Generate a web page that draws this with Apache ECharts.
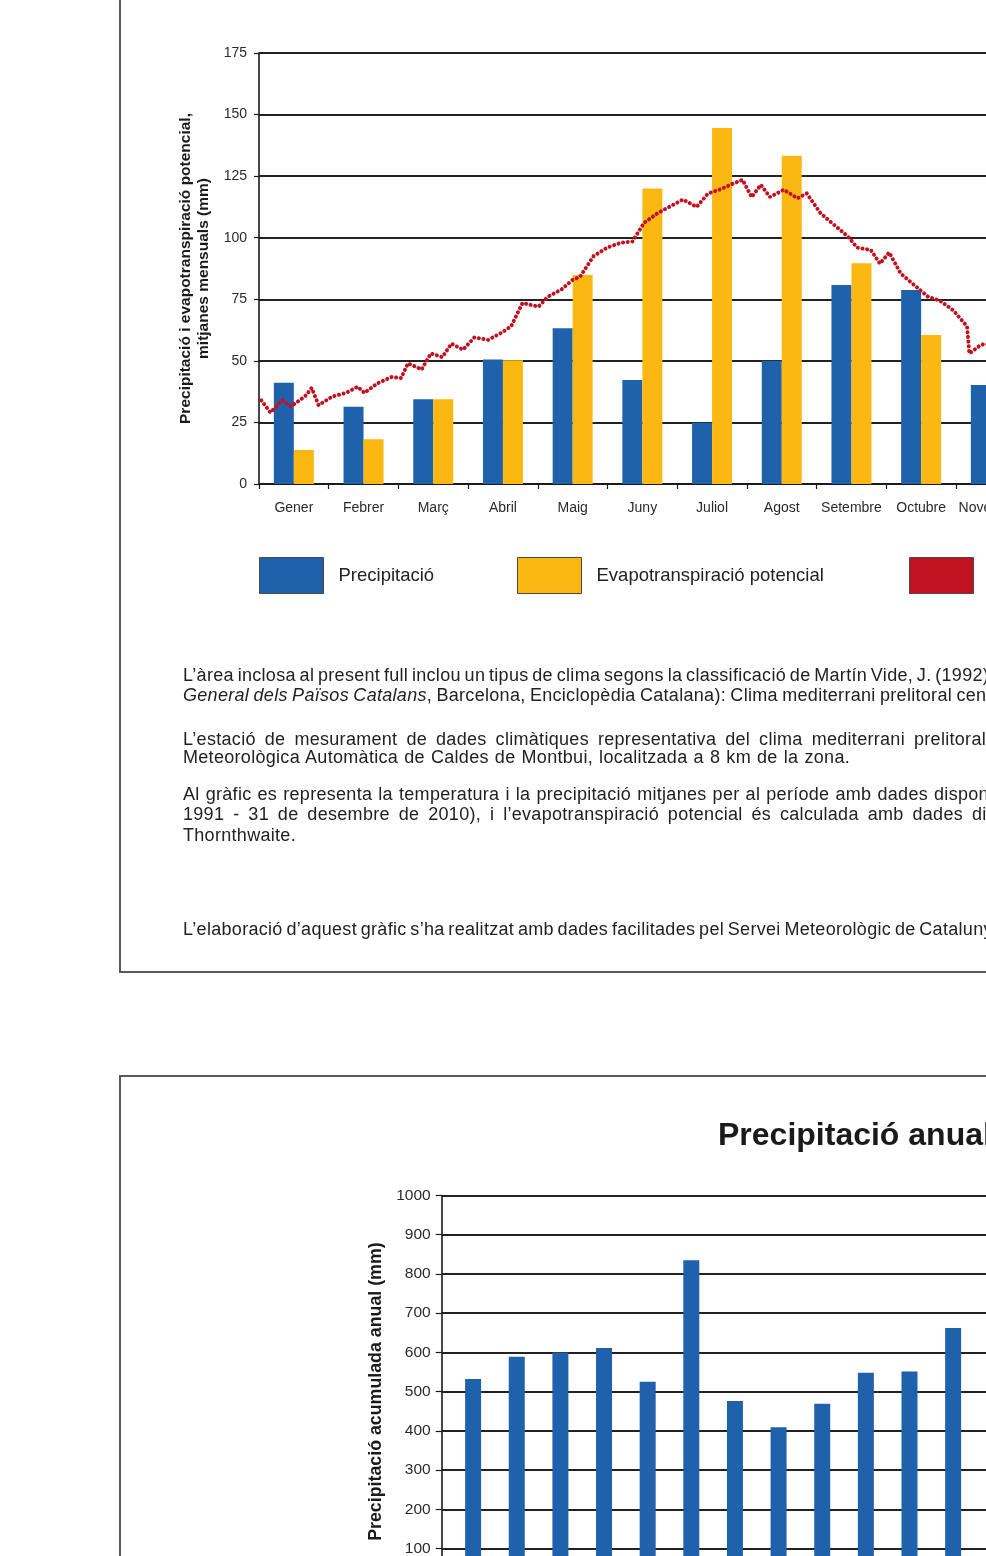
<!DOCTYPE html>
<html>
<head>
<meta charset="utf-8">
<script src="https://cdn.jsdelivr.net/npm/echarts@6/dist/echarts.min.js"></script>
<style>
  html, body { margin:0; padding:0; width:986px; height:1556px; overflow:hidden; background:#fff; }
  .frame { position:absolute; border:2px solid #5a5a5a; box-sizing:border-box; }
  #chart { position:absolute; left:0; top:0; width:1400px; height:1750px; z-index:2; }
  .ln { position:absolute; left:183px; white-space:nowrap; font-family:"Liberation Sans", Arial, Helvetica, sans-serif;
        font-size:18px; letter-spacing:0.3px; line-height:20px; color:#222; z-index:3; }
</style>
</head>
<body>
<div class="frame" style="left:119px; top:-20px; width:1300px; height:993px;"></div>
<div class="frame" style="left:119px; top:1075px; width:1300px; height:700px;"></div>
<div id="chart"></div>
<div class="ln" style="top:665px;" data-end="988"><span class="a">L’àrea inclosa al present full inclou un tipus de clima segons la classificació de Martín Vide, J. (1992)</span> (Geografia</div>
<div class="ln" style="top:685px;" data-end="952"><span class="a"><i>General dels Països Catalans</i>, Barcelona, Enciclopèdia Catalana): Clima mediterrani prelitoral</span> central.</div>
<div class="ln" style="top:729px;" data-end="986"><span class="a">L’estació de mesurament de dades climàtiques representativa del clima mediterrani prelitoral</span> central és l’Estació</div>
<div class="ln" style="top:747px;" data-end="850"><span class="a">Meteorològica Automàtica de Caldes de Montbui, localitzada a 8 km de la zona.</span></div>
<div class="ln" style="top:784px;" data-end="928"><span class="a">Al gràfic es representa la temperatura i la precipitació mitjanes per al període amb dades</span> disponibles (1 de gener de</div>
<div class="ln" style="top:804px;" data-end="963"><span class="a">1991 - 31 de desembre de 2010), i l’evapotranspiració potencial és calculada amb dades</span> diàries segons el mètode de</div>
<div class="ln" style="top:825px;"><span class="a">Thornthwaite.</span></div>
<div class="ln" style="top:919px;" data-end="897"><span class="a">L’elaboració d’aquest gràfic s’ha realitzat amb dades facilitades pel Servei Meteorològic de</span> Catalunya.</div>
<script>
// ---- Climograma (mitjanes mensuals) ----
const mesos = ['Gener','Febrer','Març','Abril','Maig','Juny','Juliol','Agost','Setembre','Octubre','Novembre','Desembre'];
const precipitacio = [41.1, 31.4, 34.4, 50.6, 63.2, 42.2, 24.9, 50.0, 80.8, 78.8, 40.2, 45];
const evapotranspiracio = [13.8, 18.2, 34.4, 50.2, 84.9, 120.0, 144.5, 133.3, 89.6, 60.5, 28, 15];
const yTicksMm = [0, 175, 25];
// temperatura mitjana diària (°C), dia de l'any
const diesAny = [1,5,10,14,20,23,26,32,38,43,46,52,58,62,65,71,75,80,84,89,94,100,106,110,115,122,126,132,137,140,146,152,158,163,168,174,179,185,191,196,201,207,211,215,219,223,229,235,239,245,250,257,261,267,271,275,280,285,292,297,303,309,310,315,319];
const temperatura = [6.8,5.8,6.8,6.3,7.1,7.8,6.4,7.1,7.4,7.9,7.4,8.2,8.7,8.6,9.8,9.3,10.6,10.3,11.4,10.9,11.9,11.7,12.3,12.8,14.7,14.4,15.2,15.8,16.6,16.8,18.5,19.2,19.6,19.7,21.2,22.0,22.5,23.1,22.5,23.6,23.9,24.4,24.7,23.3,24.3,23.3,23.9,23.2,23.6,22.0,21.2,20.1,19.2,19.0,17.9,18.8,17.1,16.3,15.2,14.9,14.1,12.8,10.6,11.3,11.4];
// ---- Precipitació anual ----
const anys = ['1991','1992','1993','1994','1995','1996','1997','1998','1999','2000','2001','2002','2003'];
const precipAnual = [532, 589, 600, 611, 525, 835, 476, 409, 469, 548, 551, 662, 553];
const yTicksAnual = [0, 1000, 100];

// text line fitting (reproduces the justified paragraph layout)
document.querySelectorAll('.ln').forEach(div => {
  if (!div.dataset.end) return;
  const a = div.querySelector('.a');
  const target = +div.dataset.end;
  const right = a.getBoundingClientRect().right;
  const n = (a.textContent.match(/ /g) || []).length;
  if (n) div.style.wordSpacing = Math.max(-1.5, (target - right) / n) + 'px';
});

const FONT = '"Liberation Sans", Arial, Helvetica, sans-serif';
const BLUE = '#1f62ab', YELLOW = '#fbb813', RED = '#c1121f';
const tempData = diesAny.map((d, i) => [d, temperatura[i]]);

const chart = echarts.init(document.getElementById('chart'), null, {renderer:'canvas'});
const axisLineStyle = {color:'#1a1a1a', width:1.6};
const splitStyle = {color:'#222', width:1.8};
const legendText = {fontSize:18.5, color:'#222', fontFamily:FONT, padding:[0,0,0,10]};

chart.setOption({
  animation:false,
  textStyle:{fontFamily:FONT},
  title:{text:'Precipitació anual', left:718, top:1120, padding:0,
    textStyle:{fontSize:32, fontWeight:'bold', color:'#1a1a1a', fontFamily:FONT}},
  legend:[
    {data:[{name:'Precipitació', icon:'rect'}], left:259, top:557, padding:0, itemWidth:64, itemHeight:36,
     itemStyle:{borderColor:'#4a4a4a', borderWidth:1}, textStyle:legendText},
    {data:[{name:'Evapotranspiració potencial', icon:'rect'}], left:517, top:557, padding:0, itemWidth:64, itemHeight:36,
     itemStyle:{borderColor:'#4a4a4a', borderWidth:1}, textStyle:legendText},
    {data:[{name:'Temperatura', icon:'rect', itemStyle:{color:RED}}], left:909, top:557, padding:0, itemWidth:64, itemHeight:36,
     itemStyle:{borderColor:'#4a4a4a', borderWidth:1}, textStyle:legendText}
  ],
  grid:[
    {left:259, top:53, width:836.4, height:431},
    {left:441.7, top:1195.5, width:567.3, height:392.2}
  ],
  xAxis:[
    {type:'category', gridIndex:0, data:mesos, boundaryGap:true,
     axisLine:{lineStyle:axisLineStyle}, axisTick:{show:true, length:5, lineStyle:{color:'#1a1a1a', width:1.2}},
     axisLabel:{fontSize:14, color:'#2a2a2a', margin:17, interval:0, fontFamily:FONT}},
    {type:'value', gridIndex:0, min:0, max:365, show:false},
    {type:'category', gridIndex:1, data:anys, boundaryGap:true,
     axisLine:{lineStyle:axisLineStyle}, axisTick:{show:true, length:5},
     axisLabel:{fontSize:14, color:'#2a2a2a', interval:0, fontFamily:FONT}}
  ],
  yAxis:[
    {type:'value', gridIndex:0, min:yTicksMm[0], max:yTicksMm[1], interval:yTicksMm[2],
     axisLine:{show:true, lineStyle:axisLineStyle}, axisTick:{show:true, length:5, lineStyle:{color:'#1a1a1a', width:1.2}},
     splitLine:{show:true, lineStyle:splitStyle},
     axisLabel:{fontSize:14, color:'#2a2a2a', margin:12, fontFamily:FONT},
     name:'Precipitació i evapotranspiració potencial,\nmitjanes mensuals (mm)',
     nameLocation:'middle', nameRotate:90, nameGap:33,
     nameTextStyle:{fontSize:15.5, fontWeight:'bold', color:'#1a1a1a', lineHeight:18, fontFamily:FONT}},
    {type:'value', gridIndex:0, min:0, max:35, show:false, splitLine:{show:false}},
    {type:'value', gridIndex:1, min:yTicksAnual[0], max:yTicksAnual[1], interval:yTicksAnual[2],
     axisLine:{show:true, lineStyle:axisLineStyle}, axisTick:{show:true, length:6, lineStyle:{color:'#1a1a1a', width:1.2}},
     splitLine:{show:true, lineStyle:splitStyle},
     axisLabel:{fontSize:15.5, color:'#2a2a2a', margin:11, fontFamily:FONT, formatter:v => String(v)},
     name:'Precipitació acumulada anual (mm)',
     nameLocation:'middle', nameRotate:90, nameGap:57,
     nameTextStyle:{fontSize:17.8, fontWeight:'bold', color:'#1a1a1a', fontFamily:FONT}}
  ],
  series:[
    {name:'Precipitació', type:'bar', xAxisIndex:0, yAxisIndex:0, data:precipitacio,
     barWidth:20, barGap:'0%', itemStyle:{color:BLUE}},
    {name:'Evapotranspiració potencial', type:'bar', xAxisIndex:0, yAxisIndex:0, data:evapotranspiracio,
     barWidth:20, barGap:'0%', itemStyle:{color:YELLOW}},
    {name:'Temperatura', type:'line', xAxisIndex:1, yAxisIndex:1, data:tempData,
     showSymbol:false, symbol:'none', itemStyle:{color:RED}, z:5,
     lineStyle:{color:RED, width:4, type:[0.1, 4.6], cap:'round'}},
    {name:'buit', type:'bar', xAxisIndex:2, yAxisIndex:2, data:anys.map(() => null),
     barWidth:16, barGap:'20%'},
    {name:'Precipitació anual', type:'bar', xAxisIndex:2, yAxisIndex:2, data:precipAnual,
     barWidth:16, barGap:'20%', itemStyle:{color:BLUE}}
  ]
});
</script>
</body>
</html>
